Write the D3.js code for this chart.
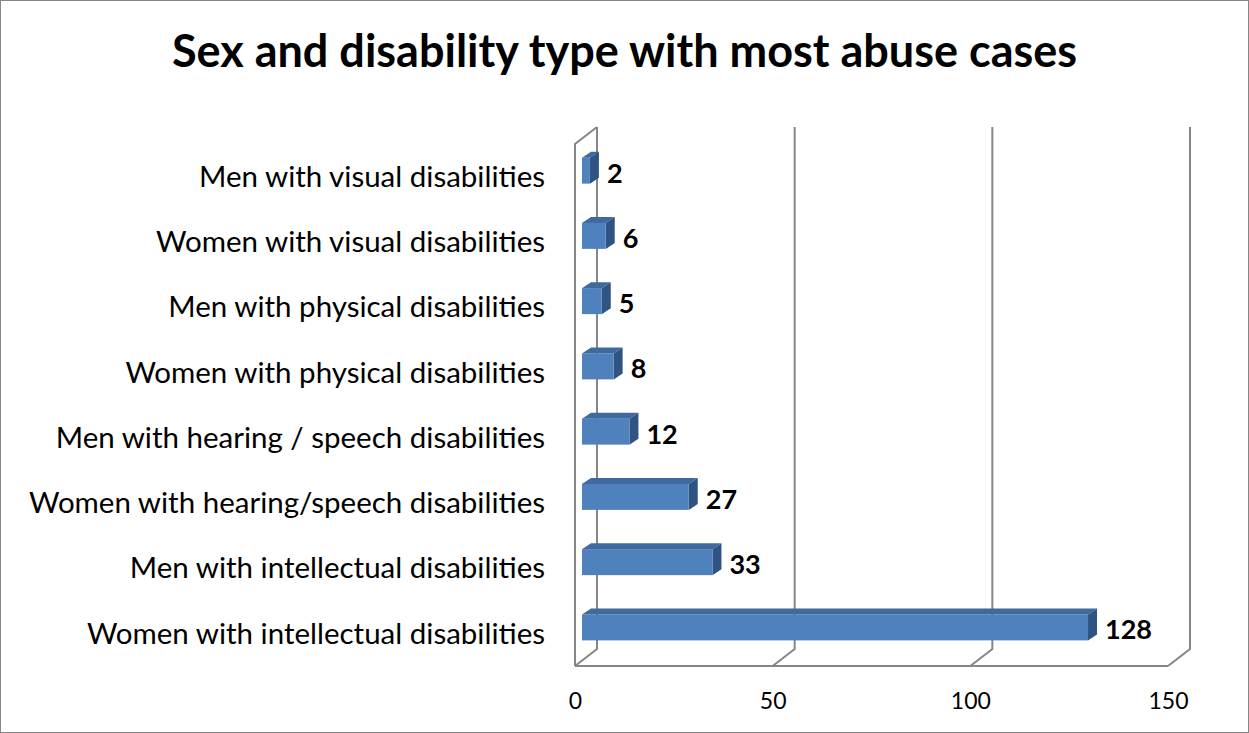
<!DOCTYPE html>
<html>
<head>
<meta charset="utf-8">
<script src="https://cdn.jsdelivr.net/npm/d3@7"></script>
<style>
  html, body { margin: 0; padding: 0; background: #fff; }
  svg { display: block; }
</style>
</head>
<body>
<svg id="chart" width="1249" height="733"></svg>
<script>
// Categories listed top to bottom as they appear on the axis
const categories = [
  "Men with visual disabilities",
  "Women with visual disabilities",
  "Men with physical disabilities",
  "Women with physical disabilities",
  "Men with hearing / speech disabilities",
  "Women with hearing/speech disabilities",
  "Men with intellectual disabilities",
  "Women with intellectual disabilities"
];
const cases = [2, 6, 5, 8, 12, 27, 33, 128];
const tickValues = [0, 50, 100, 150];
const titleText = "Sex and disability type with most abuse cases";

const W = 1249, H = 733;
const FONT = "Lato, 'Open Sans', 'Liberation Sans', sans-serif";
const svg = d3.select("#chart");

// Outer frame
svg.append("rect")
  .attr("x", 0.5).attr("y", 0.5)
  .attr("width", W - 1).attr("height", H - 1)
  .attr("fill", "#fff").attr("stroke", "#868686").attr("stroke-width", 1);

// Title
svg.append("text")
  .attr("x", W / 2).attr("y", 67)
  .attr("text-anchor", "middle")
  .attr("font-family", FONT)
  .attr("font-weight", "bold")
  .attr("font-size", 45)
  .attr("fill", "#000")
  .text(titleText);

// Front plane scales of the 3-D plot box
const x = d3.scaleLinear().domain([0, 150]).range([575, 1168]);
const y = d3.scaleBand().domain(categories).range([144, 666]).paddingInner(0).paddingOuter(0);

// Depth offset from the front plane to the back wall
const depth = { dx: 22, dy: -17 };
// Bars sit part-way into the depth
const barFront = { dx: 7, dy: -6 };
const barDepth = { dx: 9, dy: -6 };
const barH = 26;

const grid = svg.append("g")
  .attr("fill", "none")
  .attr("stroke", "#868686")
  .attr("stroke-width", 2);

const yTop = y.range()[0], yBottom = y.range()[1];

// Left wall: front edge and top diagonal
grid.append("path")
  .attr("d", `M${x(0)},${yBottom} L${x(0)},${yTop} L${x(0) + depth.dx},${yTop + depth.dy}`);

// Back wall gridlines, each dropping into a floor diagonal
tickValues.forEach(t => {
  const xf = x(t), xb = x(t) + depth.dx;
  grid.append("path")
    .attr("d", `M${xb},${yTop + depth.dy} L${xb},${yBottom + depth.dy} L${xf},${yBottom}`);
});

// Front floor edge
grid.append("path")
  .attr("d", `M${x(0)},${yBottom} L${x(150)},${yBottom}`);

// Bars drawn as three faces
const colors = { front: "#4F81BD", top: "#3E6A9E", side: "#2F5483" };
const bars = svg.append("g");
categories.forEach((c, i) => {
  const v = cases[i];
  const cy = y(c) + y.bandwidth() / 2 + barFront.dy;
  const x0 = x(0) + barFront.dx;
  const x1 = x(v) + barFront.dx;
  const yt = cy - barH / 2, yb = cy + barH / 2;
  const g = bars.append("g");
  // top face
  g.append("path")
    .attr("d", `M${x0},${yt} L${x0 + barDepth.dx},${yt + barDepth.dy} L${x1 + barDepth.dx},${yt + barDepth.dy} L${x1},${yt} Z`)
    .attr("fill", colors.top);
  // side face
  g.append("path")
    .attr("d", `M${x1},${yt} L${x1 + barDepth.dx},${yt + barDepth.dy} L${x1 + barDepth.dx},${yb + barDepth.dy} L${x1},${yb} Z`)
    .attr("fill", colors.side);
  // front face
  g.append("rect")
    .attr("x", x0).attr("y", yt)
    .attr("width", x1 - x0).attr("height", barH)
    .attr("fill", colors.front);
  // value label
  g.append("text")
    .attr("x", x1 + barDepth.dx + 8)
    .attr("y", cy + 2.5)
    .attr("dy", "0.35em")
    .attr("font-family", FONT)
    .attr("font-weight", "bold")
    .attr("font-size", 27)
    .attr("fill", "#000")
    .text(v);
});

// Category labels
svg.append("g")
  .selectAll("text")
  .data(categories)
  .join("text")
  .attr("x", 545)
  .attr("y", d => y(d) + y.bandwidth() / 2)
  .attr("dy", "0.35em")
  .attr("text-anchor", "end")
  .attr("font-family", FONT)
  .attr("font-size", 29.5)
  .attr("fill", "#000")
  .text(d => d);

// Value axis labels
const axis = d3.axisBottom(x).tickValues(tickValues).tickSize(0).tickPadding(0);
const axG = svg.append("g")
  .attr("transform", `translate(0, 709)`)
  .call(axis);
axG.select(".domain").remove();
axG.selectAll("text")
  .attr("dy", 0)
  .attr("y", 0)
  .attr("font-family", FONT)
  .attr("font-size", 23)
  .attr("fill", "#000");
</script>
</body>
</html>
